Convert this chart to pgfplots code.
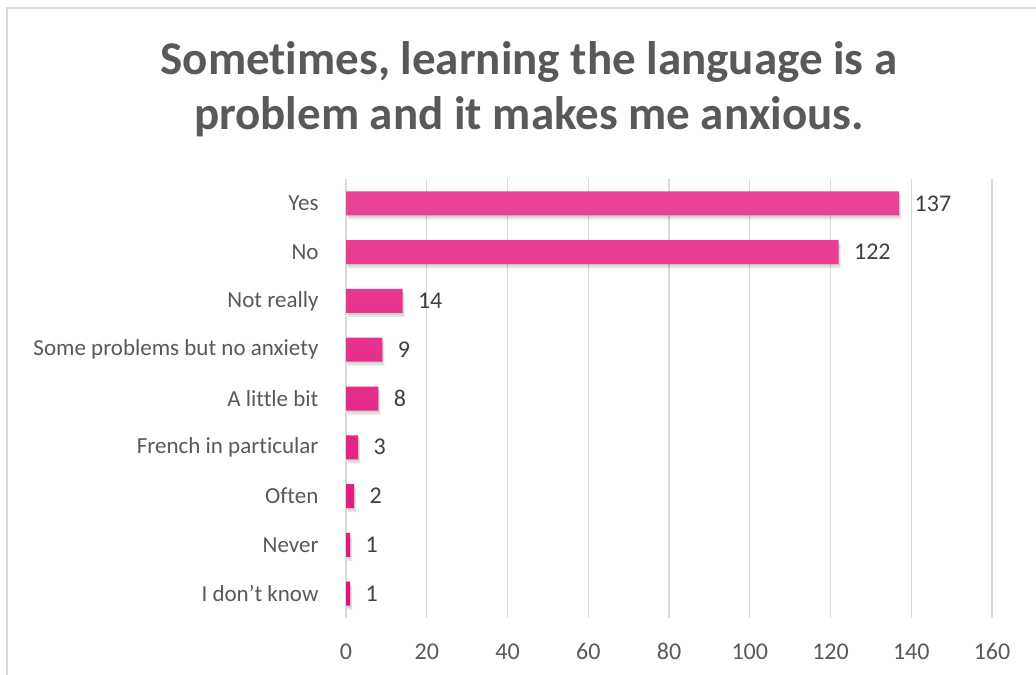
\documentclass[border=0pt]{standalone}
\usepackage{pgfplots}
\pgfplotsset{compat=1.18}
\usepackage{fontspec}
\setmainfont{Carlito}[Ligatures={NoCommon}, RawFeature={-calt;-liga;-dlig}]
\definecolor{txt}{HTML}{595959}
\definecolor{lbl}{HTML}{404040}
\definecolor{gridc}{HTML}{D9D9D9}
\definecolor{barTop}{HTML}{E94596}
\definecolor{barMid}{HTML}{E51A84}
\definecolor{barBot}{HTML}{DF127C}
\begin{document}
\begin{tikzpicture}
\useasboundingbox (0bp,0bp) rectangle (1036bp,675bp);
\fill[white] (0bp,0bp) rectangle (1036bp,675bp);
\draw[gridc, line width=1.5bp] (7bp,0bp) -- (7bp,667bp) -- (1036bp,667bp);
\node[font=\fontsize{47bp}{55bp}\selectfont\bfseries, text=txt, anchor=base] at (529bp,600bp) {Sometimes, learning the language is a};
\node[font=\fontsize{47bp}{55bp}\selectfont\bfseries, text=txt, anchor=base] at (529bp,545bp) {problem and it makes me anxious.};
\begin{axis}[
  at={(346bp,57bp)}, anchor=south west, scale only axis,
  width=646bp, height=439bp,
  xmin=0, xmax=160, ymin=-0.5, ymax=8.5,
  xtick={0,20,...,160}, ytick={0,...,8},
  yticklabels={I don’t know, Never, Often, French in particular, A little bit, Some problems but no anxiety, Not really, No, Yes},
  xmajorgrids, grid style={gridc, line width=1.2bp},
  axis line style={draw=none}, major tick length=0pt,
  /pgf/number format/assume math mode=true,
  xticklabel style={font=\fontsize{24bp}{28bp}\selectfont, text=txt, yshift=-22bp},
  yticklabel style={font=\fontsize{23bp}{27bp}\selectfont, text=txt, xshift=-24bp},
  xbar, bar width=24bp,
  clip=false,
]
\addplot[draw=none, fill=black, fill opacity=0.10, bar shift=-4bp, xshift=2bp, forget plot]
  coordinates {(1,0) (1,1) (2,2) (3,3) (8,4) (9,5) (14,6) (122,7) (137,8)};
\addplot[draw=none, fill=black, fill opacity=0.08, bar shift=-2bp, xshift=1bp, forget plot]
  coordinates {(1,0) (1,1) (2,2) (3,3) (8,4) (9,5) (14,6) (122,7) (137,8)};
\addplot[draw=none, top color=barTop, middle color=barMid, bottom color=barBot, bar shift=0pt,
  nodes near coords,
  nodes near coords style={font=\fontsize{24bp}{28bp}\selectfont, text=lbl, anchor=west, xshift=12bp}]
  coordinates {(1,0) (1,1) (2,2) (3,3) (8,4) (9,5) (14,6) (122,7) (137,8)};
\end{axis}
\end{tikzpicture}
\end{document}
